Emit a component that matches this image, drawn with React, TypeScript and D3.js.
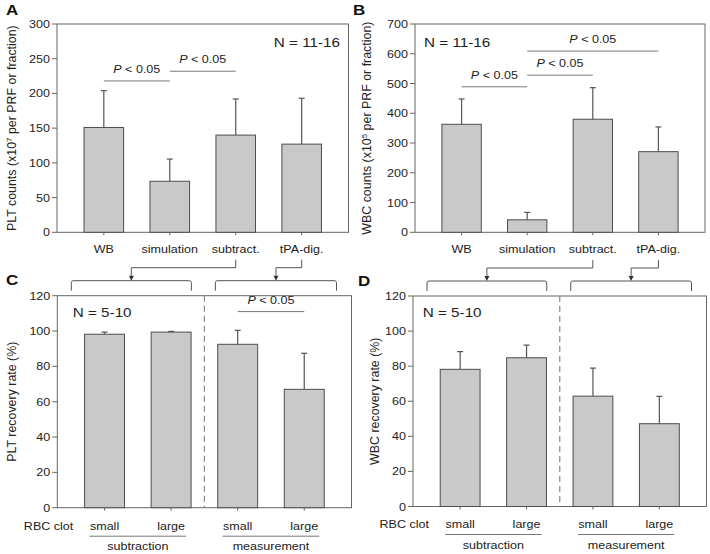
import React from 'react';
import * as d3 from 'd3';

const countCategories = ['WB', 'simulation', 'subtract.', 'tPA-dig.'];
const pltCounts = [151, 73.5, 140, 127];
const pltCountsSD = [53, 32, 52, 66];
const wbcCounts = [363, 42, 380, 271];
const wbcCountsSD = [85, 25, 106, 83];

const clotSizes = ['small', 'large', 'small', 'large'];
const methodGroups = ['subtraction', 'measurement'];
const pltRecovery = [98.2, 99.4, 92.5, 67];
const pltRecoverySD = [1.2, 0.4, 7.9, 20.4];
const wbcRecovery = [78.2, 84.8, 62.9, 47.2];
const wbcRecoverySD = [10.1, 7.2, 16, 15.6];

const ticksA = [0, 50, 100, 150, 200, 250, 300];
const ticksB = [0, 100, 200, 300, 400, 500, 600, 700];
const ticksRecovery = [0, 20, 40, 60, 80, 100, 120];

const sigA = [
  { from: 0, to: 1, level: 218 },
  { from: 1, to: 2, level: 232 },
];
const sigB = [
  { from: 0, to: 1, level: 489 },
  { from: 1, to: 2, level: 528 },
  { from: 1, to: 3, level: 609 },
];
const sigC = [{ from: 2, to: 3, level: 111 }];
const sigD: { from: number; to: number; level: number }[] = [];

const FONT = '"Liberation Sans", Arial, sans-serif';
const SX = 1.13;
const TEXT = '#222';
const AXIS = '#666';

function T(props: any) {
  const { x, y, anchor = 'start', size = 11.1, weight, children, fill = TEXT } = props;
  return (
    <text
      transform={`translate(${x},${y}) scale(${SX},1)`}
      textAnchor={anchor}
      fontSize={size}
      fontWeight={weight}
      fontFamily={FONT}
      fill={fill}
    >
      {children}
    </text>
  );
}

function makeX(x0: number, x1: number, cats: string[]) {
  return d3
    .scalePoint<number>()
    .domain(cats.map((_, i) => i))
    .range([x0, x1])
    .padding(0.71);
}

function Panel(props: any) {
  const {
    x0, x1, yTop, yBot, max, ticks, values, sds, labels, sig, letter, letterX, letterY,
    yLabel, yLabelX, nText, nX, nY, nAnchor, dashed, lower, labelDy,
  } = props;
  const xs = makeX(x0, x1, labels);
  const y = d3.scaleLinear().domain([0, max]).range([yBot, yTop]);
  const step = xs.step();
  const bw = step * 0.6;
  const dashX = (xs(1)! + xs(2)!) / 2;
  return (
    <g>
      <rect x={x0} y={yTop} width={x1 - x0} height={yBot - yTop} fill="none" stroke={AXIS} strokeWidth={1} />
      {values.map((v: number, i: number) => (
        <g key={i}>
          <rect
            x={xs(i)! - bw / 2}
            y={y(v)}
            width={bw}
            height={y(0) - y(v)}
            fill="#c9c9c9"
            stroke="#4d4d4d"
            strokeWidth={1}
          />
          <line x1={xs(i)} x2={xs(i)} y1={y(v)} y2={y(v + sds[i])} stroke="#555" strokeWidth={1.2} />
          <line x1={xs(i)! - 3} x2={xs(i)! + 3} y1={y(v + sds[i])} y2={y(v + sds[i])} stroke="#555" strokeWidth={1.2} />
          <line x1={xs(i)} x2={xs(i)} y1={yBot} y2={yBot + 3} stroke={AXIS} />
        </g>
      ))}
      {ticks.map((t: number) => (
        <g key={t}>
          <line x1={x0 - 5} x2={x0} y1={y(t)} y2={y(t)} stroke={AXIS} />
          <T x={x0 - 7} y={y(t) + 4} anchor="end">{t}</T>
        </g>
      ))}
      {dashed && (
        <line x1={dashX} x2={dashX} y1={yTop} y2={yBot} stroke="#888" strokeWidth={1.2} strokeDasharray="6,4" />
      )}
      {sig.map((s: any, i: number) => {
        const xa = xs(s.from)!;
        const xb = xs(s.to)!;
        return (
          <g key={i}>
            <line x1={xa} x2={xb} y1={y(s.level)} y2={y(s.level)} stroke="#777" strokeWidth={1} />
            <T x={(xa + xb) / 2} y={y(s.level) - 8} anchor="middle">
              <tspan fontStyle="italic">P</tspan>
              {' < 0.05'}
            </T>
          </g>
        );
      })}
      <T x={nX} y={nY} anchor={nAnchor} size={13.5}>{nText}</T>
      <T x={letterX} y={letterY} size={15} weight="bold" fill="#111">{letter}</T>
      <text
        transform={`translate(${yLabelX},${(yTop + yBot) / 2}) rotate(-90)`}
        textAnchor="middle"
        fontSize={12.4}
        fontFamily={FONT}
        fill={TEXT}
      >
        {yLabel}
      </text>
      {!lower &&
        labels.map((c: string, i: number) => (
          <T key={i} x={xs(i)} y={yBot + 21} anchor="middle">{c}</T>
        ))}
      {lower && (
        <g>
          <T x={x0 + 16} y={yBot + labelDy} anchor="end">RBC clot</T>
          {labels.map((c: string, i: number) => (
            <T key={i} x={xs(i)} y={yBot + labelDy} anchor="middle">{c}</T>
          ))}
          {methodGroups.map((g: string, gi: number) => {
            const a = xs(gi * 2)! - 15;
            const b = xs(gi * 2 + 1)! + 15;
            return (
              <g key={g}>
                <line x1={a} x2={b} y1={yBot + labelDy + 6.5} y2={yBot + labelDy + 6.5} stroke="#777" />
                <T x={(a + b) / 2} y={yBot + labelDy + 20.5} anchor="middle">{g}</T>
              </g>
            );
          })}
        </g>
      )}
    </g>
  );
}

function Connector(props: any) {
  const { upper, lowerX0, lowerX1, lowerTop } = props;
  const xsU = makeX(upper[0], upper[1], countCategories);
  const xsL = makeX(lowerX0, lowerX1, clotSizes);
  const dashX = (xsL(1)! + xsL(2)!) / 2;
  const top = lowerTop - 15;
  const brackets = [
    [lowerX0 + 14, dashX - 13],
    [dashX + 11, lowerX1 - 15],
  ];
  const sources = [xsU(2)!, xsU(3)!];
  return (
    <g>
      {brackets.map(([a, b], i) => {
        const c = (a + b) / 2;
        const sx = sources[i];
        return (
          <g key={i}>
            <path
              d={`M${a},${top + 10} V${top + 2} Q${a},${top} ${a + 2},${top} H${b - 2} Q${b},${top} ${b},${top + 2} V${top + 10}`}
              fill="none"
              stroke="#555"
              strokeWidth={1}
            />
            <path d={`M${sx},${top - 21} V${top - 13} H${c} V${top - 5}`} fill="none" stroke="#555" strokeWidth={1} />
            <path d={`M${c - 2.5},${top - 5} L${c + 2.5},${top - 5} L${c},${top} Z`} fill="#333" />
          </g>
        );
      })}
    </g>
  );
}

export default function App() {
  const A = { x0: 57, x1: 348.5, yTop: 24, yBot: 232.3 };
  const B = { x0: 415, x1: 705, yTop: 24, yBot: 232.3 };
  const C = { x0: 57.3, x1: 351.5, yTop: 295.7, yBot: 507.7 };
  const D = { x0: 413, x1: 706.5, yTop: 296, yBot: 506.5 };
  return (
    <svg width={710} height={554} style={{ position: 'absolute', left: 0, top: 0, background: '#fff' }}>
      <rect x={0} y={0} width={710} height={554} fill="#fff" />
      <Panel
        {...A}
        max={300}
        ticks={ticksA}
        values={pltCounts}
        sds={pltCountsSD}
        labels={countCategories}
        sig={sigA}
        letter="A"
        letterX={6}
        letterY={15}
        yLabelX={15.5}
        yLabel={
          <>
            PLT counts (x10<tspan dy={-4} fontSize={8}>7</tspan>
            <tspan dy={4}> per PRF or fraction)</tspan>
          </>
        }
        nText="N = 11-16"
        nX={340}
        nY={47}
        nAnchor="end"
      />
      <Panel
        {...B}
        max={700}
        ticks={ticksB}
        values={wbcCounts}
        sds={wbcCountsSD}
        labels={countCategories}
        sig={sigB}
        letter="B"
        letterX={353}
        letterY={15}
        yLabelX={371}
        yLabel={
          <>
            WBC counts (x10<tspan dy={-4} fontSize={8}>5</tspan>
            <tspan dy={4}> per PRF or fraction)</tspan>
          </>
        }
        nText="N = 11-16"
        nX={424}
        nY={47}
        nAnchor="start"
      />
      <Panel
        {...C}
        max={120}
        ticks={ticksRecovery}
        values={pltRecovery}
        sds={pltRecoverySD}
        labels={clotSizes}
        sig={sigC}
        letter="C"
        letterX={6}
        letterY={285}
        yLabelX={15.5}
        yLabel="PLT recovery rate (%)"
        nText="N = 5-10"
        nX={72.7}
        nY={317}
        nAnchor="start"
        dashed
        lower
        labelDy={22}
      />
      <Panel
        {...D}
        max={120}
        ticks={ticksRecovery}
        values={wbcRecovery}
        sds={wbcRecoverySD}
        labels={clotSizes}
        sig={sigD}
        letter="D"
        letterX={358}
        letterY={286}
        yLabelX={378.5}
        yLabel="WBC recovery rate (%)"
        nText="N = 5-10"
        nX={422.7}
        nY={317}
        nAnchor="start"
        dashed
        lower
        labelDy={21.5}
      />
      <Connector upper={[A.x0, A.x1]} lowerX0={C.x0} lowerX1={C.x1} lowerTop={C.yTop} />
      <Connector upper={[B.x0, B.x1]} lowerX0={D.x0} lowerX1={D.x1} lowerTop={D.yTop} />
    </svg>
  );
}
